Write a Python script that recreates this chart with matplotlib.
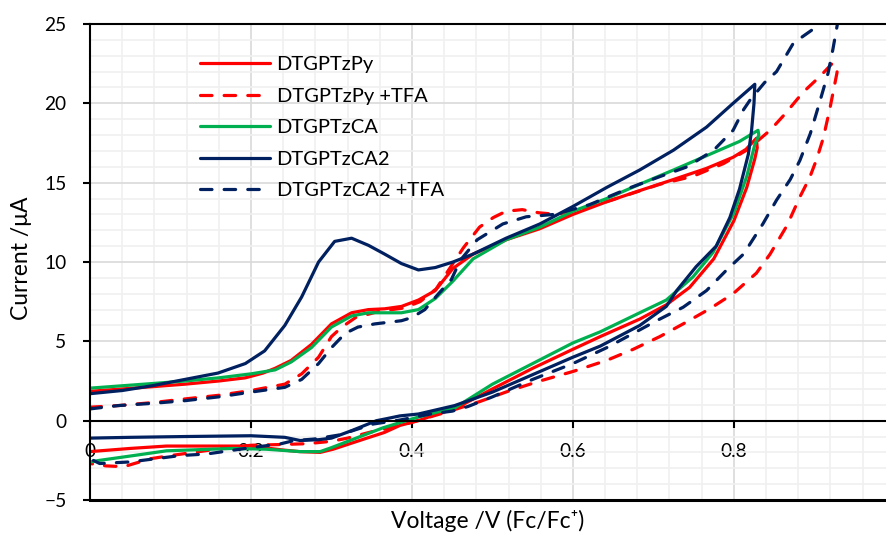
import numpy as np
from matplotlib import pyplot as plt
from matplotlib.ticker import MultipleLocator

plt.rcParams['font.family'] = ['Lato', 'DejaVu Sans']

# DTGPTzPy (upper branch then return branch)
py_v = [0.000, 0.04, 0.08, 0.118, 0.16, 0.193, 0.215, 0.23, 0.25, 0.275, 0.30, 0.325, 0.346, 0.366,
        0.387, 0.408, 0.429, 0.44, 0.451, 0.476, 0.517, 0.559, 0.60, 0.642, 0.683, 0.725, 0.766, 0.799,
        0.815, 0.828,
        0.829, 0.826, 0.816, 0.80, 0.775, 0.745, 0.716, 0.683, 0.634, 0.60, 0.55, 0.50, 0.453, 0.43,
        0.408, 0.385, 0.366, 0.344, 0.32, 0.302, 0.286, 0.26, 0.24, 0.199, 0.15, 0.095, 0.05, 0.0]
py_i = [1.85, 2.0, 2.15, 2.3, 2.5, 2.7, 3.0, 3.3, 3.8, 4.8, 6.1, 6.8, 7.0, 7.05,
        7.2, 7.6, 8.2, 8.9, 9.6, 10.5, 11.4, 12.1, 13.0, 13.8, 14.5, 15.2, 15.9, 16.6,
        17.1, 17.8,
        17.2, 16.5, 14.7, 12.6, 10.2, 8.4, 7.3, 6.4, 5.3, 4.5, 3.3, 2.0, 0.74, 0.4,
        0.0, -0.3, -0.74, -1.1, -1.5, -1.8, -2.0, -1.95, -1.85, -1.6, -1.6, -1.6, -1.75, -1.95]

# DTGPTzPy +TFA
pyt_v = [0.0, 0.035, 0.08, 0.118, 0.16, 0.2, 0.242, 0.263, 0.284, 0.30, 0.313, 0.33, 0.36, 0.39,
         0.41, 0.43, 0.443, 0.464, 0.484, 0.501, 0.517, 0.537, 0.558, 0.58, 0.61, 0.648, 0.708, 0.749,
         0.787, 0.816, 0.845, 0.863, 0.886, 0.907, 0.922,
         0.929, 0.928, 0.919, 0.911, 0.903, 0.894, 0.882, 0.866, 0.845, 0.828, 0.799, 0.770, 0.737,
         0.708, 0.675, 0.642, 0.60, 0.559, 0.522, 0.484, 0.447, 0.42, 0.40, 0.37, 0.35, 0.32, 0.30,
         0.27, 0.24, 0.2, 0.15, 0.1, 0.075, 0.042, 0.02, 0.0]
pyt_i = [0.85, 0.95, 1.15, 1.37, 1.6, 1.9, 2.3, 2.95, 4.0, 5.3, 5.9, 6.5, 6.9, 7.1,
         7.5, 8.3, 9.3, 10.9, 12.2, 12.8, 13.2, 13.3, 13.1, 13.0, 13.3, 13.9, 14.9, 15.4,
         16.2, 17.05, 18.3, 19.3, 20.7, 21.7, 22.5,
         22.3, 21.9, 19.6, 17.8, 16.5, 15.3, 14.1, 12.3, 10.5, 9.3, 8.0, 7.05, 6.1,
         5.3, 4.5, 3.8, 3.1, 2.5, 1.9, 1.2, 0.6, 0.2, -0.1, -0.5, -0.7, -1.1, -1.3,
         -1.45, -1.5, -1.55, -1.85, -2.2, -2.4, -2.9, -2.85, -2.7]

# DTGPTzCA
ca_v = [0.0, 0.04, 0.08, 0.118, 0.16, 0.2, 0.23, 0.25, 0.275, 0.30, 0.325, 0.346, 0.387, 0.408,
        0.429, 0.451, 0.476, 0.517, 0.559, 0.60, 0.642, 0.683, 0.725, 0.766, 0.807, 0.83,
        0.831, 0.826, 0.816, 0.80, 0.774, 0.749, 0.716, 0.683, 0.634, 0.60, 0.55, 0.50, 0.453,
        0.432, 0.406, 0.364, 0.323, 0.30, 0.286, 0.261, 0.219, 0.178, 0.095, 0.054, 0.012, 0.0]
ca_i = [2.05, 2.2, 2.35, 2.5, 2.7, 2.95, 3.2, 3.7, 4.6, 5.9, 6.6, 6.8, 6.8, 7.0,
        7.7, 8.8, 10.2, 11.4, 12.2, 13.2, 14.0, 14.9, 15.8, 16.7, 17.6, 18.3,
        18.0, 17.4, 15.4, 13.1, 10.6, 9.05, 7.6, 6.8, 5.6, 4.9, 3.6, 2.3, 0.8,
        0.55, 0.2, -0.45, -1.25, -1.7, -1.95, -1.95, -1.8, -1.75, -1.9, -2.2, -2.5, -2.6]

# DTGPTzCA2
ca2_v = [0.0, 0.04, 0.077, 0.118, 0.159, 0.193, 0.217, 0.242, 0.263, 0.284, 0.304, 0.325, 0.346,
         0.366, 0.387, 0.408, 0.429, 0.451, 0.476, 0.517, 0.559, 0.60, 0.642, 0.683, 0.725, 0.766,
         0.799, 0.826,
         0.825, 0.822, 0.818, 0.807, 0.795, 0.778, 0.753, 0.729, 0.716, 0.683, 0.634, 0.60, 0.55,
         0.50, 0.453, 0.408, 0.385, 0.366, 0.356, 0.325, 0.30, 0.284, 0.261, 0.242, 0.20, 0.118,
         0.05, 0.0]
ca2_i = [1.7, 1.9, 2.2, 2.6, 3.0, 3.6, 4.4, 6.0, 7.8, 10.0, 11.3, 11.5, 11.05,
         10.5, 9.9, 9.5, 9.65, 10.0, 10.5, 11.5, 12.4, 13.5, 14.7, 15.8, 17.05, 18.5,
         20.0, 21.2,
         20.0, 18.3, 16.8, 14.6, 12.8, 11.0, 9.7, 8.2, 7.2, 6.0, 4.7, 4.0, 2.9,
         1.8, 0.95, 0.42, 0.3, 0.1, 0.0, -0.63, -1.1, -1.2, -1.25, -1.05, -0.95, -1.0,
         -1.05, -1.1]

# DTGPTzCA2 +TFA
ca2t_v = [0.0, 0.035, 0.08, 0.118, 0.16, 0.2, 0.242, 0.263, 0.284, 0.30, 0.317, 0.333, 0.354,
          0.387, 0.40, 0.416, 0.433, 0.449, 0.46, 0.481, 0.513, 0.542, 0.577, 0.62, 0.672, 0.709,
          0.742, 0.775, 0.799, 0.812, 0.82, 0.838, 0.853, 0.874, 0.902, 0.915, 0.925,
          0.929, 0.923, 0.917, 0.905, 0.895, 0.882, 0.870, 0.853, 0.836, 0.812, 0.791, 0.766,
          0.737, 0.704, 0.675, 0.642, 0.60, 0.55, 0.50, 0.47, 0.45, 0.423, 0.385, 0.352, 0.31,
          0.278, 0.253, 0.236, 0.2, 0.145, 0.112, 0.05, 0.012, 0.0]
ca2t_i = [0.74, 0.95, 1.1, 1.26, 1.5, 1.8, 2.1, 2.6, 3.6, 4.6, 5.5, 5.9, 6.1,
          6.3, 6.5, 7.0, 8.0, 8.9, 10.1, 11.4, 12.4, 12.85, 13.0, 13.6, 14.7, 15.4,
          16.0, 17.05, 18.3, 19.6, 20.2, 21.3, 22.0, 23.8, 24.8, 25.4, 25.8,
          25.1, 23.4, 21.9, 19.8, 18.1, 16.4, 15.2, 13.9, 12.4, 10.5, 9.5, 8.2,
          7.15, 6.3, 5.5, 4.6, 3.6, 2.6, 1.5, 0.9, 0.6, 0.42, 0.04, -0.21, -0.9,
          -1.16, -1.26, -1.47, -1.7, -2.1, -2.2, -2.6, -2.7, -2.4]

names = ['DTGPTzPy', 'DTGPTzPy +TFA', 'DTGPTzCA', 'DTGPTzCA2', 'DTGPTzCA2 +TFA']
x_ticks = [0, 0.2, 0.4, 0.6, 0.8]
x_ticklabels = ['0', '0.2', '0.4', '0.6', '0.8']
y_ticks = [-5, 0, 5, 10, 15, 20, 25]

red = '#FF0000'
green = '#00B050'
navy = '#002060'

fig = plt.figure(figsize=(8.86, 5.36), dpi=100)
ax = fig.add_axes([90/886, 36/536, 796/886, 476/536])

lw = 2.3
dash = (3.6, 3.8)
series = [(py_v, py_i, red, '-'), (pyt_v, pyt_i, red, '--'), (ca_v, ca_i, green, '-'),
          (ca2_v, ca2_i, navy, '-'), (ca2t_v, ca2t_i, navy, '--')]
for (v, i, c, ls), name in zip(series, names):
    line, = ax.plot(v, i, color=c, lw=lw, label=name, solid_capstyle='round',
                    solid_joinstyle='round')
    if ls == '--':
        line.set_dashes(dash)
        line.set_dash_capstyle('round')

ax.set_xlim(0, 0.989)
ax.set_ylim(-5, 25)

ax.xaxis.set_minor_locator(MultipleLocator(0.04))
ax.yaxis.set_minor_locator(MultipleLocator(1))
ax.set_xticks(x_ticks)
ax.set_xticklabels(x_ticklabels)
ax.set_yticks(y_ticks)
ax.grid(which='minor', color='#F0F0F0', lw=1.2, zorder=0)
ax.grid(which='major', color='#D9D9D9', lw=1.2, zorder=0)
ax.set_axisbelow(True)

ax.spines['bottom'].set_position(('data', 0))
ax.spines['right'].set_visible(False)
for s in ['bottom', 'left', 'top']:
    ax.spines[s].set_linewidth(1.5)
ax.axhline(-5, color='black', lw=2.2, clip_on=False)

ax.tick_params(axis='both', which='minor', length=0)
ax.tick_params(axis='x', which='major', direction='out', length=5, width=1.5, pad=11,
               labelsize=13.8)
ax.tick_params(axis='y', which='major', direction='out', length=5, width=1.5, pad=12,
               labelsize=13.8)

fig.text(488/886, 1 - 521/536, 'Voltage /V (Fc/Fc\u207a)', ha='center', va='center', fontsize=16.5)
fig.text(22/886, 1 - 258/536, 'Current /\u03bcA', ha='center', va='center', rotation=90, fontsize=16.5)

ax.legend(loc='upper left', bbox_to_anchor=(200/886, 1 - 56/536), bbox_transform=fig.transFigure,
          frameon=False, fontsize=14.5, handlelength=3.5, handletextpad=0.3, labelspacing=0.72,
          borderpad=0, borderaxespad=0)

fig.savefig('out.png', dpi=100)
